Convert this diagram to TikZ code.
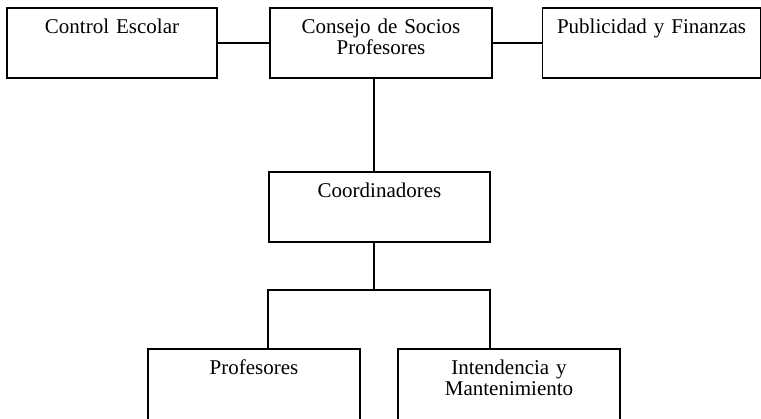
\documentclass[tikz,border=0pt]{standalone}
\usepackage{fontspec}
\setmainfont[WordSpace=0.85]{Liberation Serif}
\usetikzlibrary{calc}

\tikzset{
    orgbox/.style={draw, line width=1.4pt, inner xsep=0pt, inner ysep=0pt,
        text width=#1, align=center, text height=26pt, text depth=44pt},
    orgbox/.default=221pt,
    openbox/.style={text depth=48pt},
    link/.style={line width=1.4pt}
}

\begin{document}
\begin{tikzpicture}[x=1pt, y=-1pt, font=\fontsize{21}{21}\selectfont]
    \useasboundingbox (0, 0) rectangle (761, 419);
    \clip (0, 0) rectangle (761, 419);

    % Top row
    \node[orgbox=210pt] (ctrl) at (112, 43) {Control Escolar};
    \node[orgbox=222pt] (consejo) at (381, 43) {Consejo de Socios\\Profesores};
    \node[orgbox=218pt] (public) at (651.5, 43) {Publicidad y Finanzas};

    % Middle
    \node[orgbox] (coord) at (379.5, 207) {Coordinadores};

    % Bottom row, cut off at the lower edge
    \node[orgbox=212pt, openbox] (prof) at (254, 386) {Profesores};
    \node[orgbox=222pt, openbox] (intend) at (509, 386) {Intendencia y\\Mantenimiento};

    % Connectors
    \coordinate (spine) at (374, 0);
    \coordinate (barL) at (268, 290);
    \coordinate (barR) at (490, 290);

    \draw[link] (ctrl.east) -- (consejo.west);
    \draw[link] (consejo.east) -- (public.west);
    \draw[link] (consejo.south -| spine) -- (coord.north -| spine);
    \draw[link] (coord.south -| spine) -- (spine |- barL);
    \draw[link] (barL |- prof.north) -- (barL) -- (barR) -- (barR |- intend.north);
\end{tikzpicture}
\end{document}
